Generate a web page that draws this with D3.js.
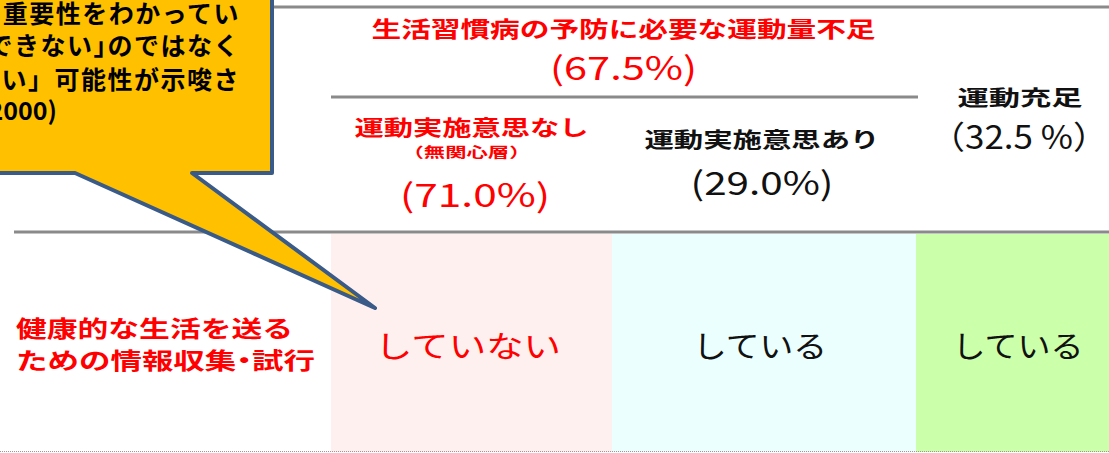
<!DOCTYPE html>
<html>
<head>
<meta charset="utf-8">
<script src="https://cdn.jsdelivr.net/npm/d3@7"></script>
<style>
  body { margin: 0; background: #fff; }
  svg { display: block; font-family: "Noto Sans CJK JP", sans-serif; }
</style>
</head>
<body>
<svg id="chart" width="1109" height="453"></svg>
<script>
// columns of the table
const groups = ["運動実施意思なし", "運動実施意思あり", "運動充足"]
const groupNotes = ["（無関心層）", "", ""]
const shares = ["(71.0%)", "(29.0%)", "（32.5 %）"]
const cellLabels = ["していない", "している", "している"]
const cellFills = ["#fff0f0", "#ebffff", "#ccffaa"]
const cellText = ["#ff0000", "#111", "#111"]
// parent header spanning the first two columns
const parentLabel = "生活習慣病の予防に必要な運動量不足"
const parentShare = "(67.5%)"
const rowLabel = ["健康的な生活を送る", "ための情報収集・試行"]
const calloutLines = ["運動の重要性をわかってい", "ても「できない」のではなく", "「しない」可能性が示唆さ", "れた。(n=2000)"]

const svg = d3.select("#chart")

// column edges: index -> x
const x = d3.scaleLinear().domain([0, 1, 2, 3]).range([331, 612, 916, 1112])
const y = d3.scaleLinear().domain([0, 1]).range([234, 452])

// cell backgrounds
svg.selectAll("rect.cell")
    .data(groups)
    .enter()
    .append("rect")
    .attr("class", "cell")
    .attr("x", (d, i) => x(i))
    .attr("y", y(0))
    .attr("width", (d, i) => x(i + 1) - x(i))
    .attr("height", y(1) - y(0))
    .attr("fill", (d, i) => cellFills[i])

// rules
const rule = (x1, x2, yy, w) => svg.append("line")
    .attr("x1", x1).attr("x2", x2).attr("y1", yy).attr("y2", yy)
    .attr("stroke", "#8a8a8a").attr("stroke-width", w)
rule(260, 1109, 7, 3)
rule(x(0), x(2) + 2, 97, 3)
rule(14, 1109, 232, 3)
svg.append("line")
    .attr("x1", 0).attr("x2", 1109).attr("y1", 451.5).attr("y2", 451.5)
    .attr("stroke", "#999").attr("stroke-width", 1).attr("stroke-dasharray", "1,1")

const mid = i => (x(i) + x(i + 1)) / 2

// parent header
svg.append("text")
    .attr("x", (x(0) + x(2)) / 2).attr("y", 37)
    .attr("text-anchor", "middle").attr("fill", "#ff0000")
    .attr("font-size", 22).attr("font-weight", "bold")
    .attr("textLength", 504).attr("lengthAdjust", "spacingAndGlyphs")
    .text(parentLabel)
svg.append("text")
    .attr("x", (x(0) + x(2)) / 2).attr("y", 80)
    .attr("text-anchor", "middle").attr("fill", "#ff0000")
    .attr("font-size", 32)
    .attr("textLength", 147).attr("lengthAdjust", "spacingAndGlyphs")
    .text(parentShare)

// column headers
const headY = [135, 147, 105]
const shareY = [207, 195, 149]
const headW = [234, 235, 125]
const shareW = [150, 143, 178]
svg.selectAll("text.head")
    .data(groups)
    .enter()
    .append("text")
    .attr("class", "head")
    .attr("x", (d, i) => i === 2 ? 1020 : mid(i) + (i === 1 ? -2 : 0))
    .attr("y", (d, i) => headY[i])
    .attr("text-anchor", "middle")
    .attr("fill", (d, i) => i === 0 ? "#ff0000" : "#111")
    .attr("font-size", 21).attr("font-weight", "bold")
    .attr("textLength", (d, i) => headW[i]).attr("lengthAdjust", "spacingAndGlyphs")
    .text(d => d)
svg.append("text")
    .attr("x", mid(0) - 5).attr("y", 157)
    .attr("text-anchor", "middle").attr("fill", "#ff0000")
    .attr("font-size", 14).attr("font-weight", "bold")
    .attr("textLength", 128).attr("lengthAdjust", "spacingAndGlyphs")
    .text(groupNotes[0])
svg.selectAll("text.share")
    .data(shares)
    .enter()
    .append("text")
    .attr("class", "share")
    .attr("x", (d, i) => i === 2 ? 1019 : [475, 762][i])
    .attr("y", (d, i) => shareY[i])
    .attr("text-anchor", "middle")
    .attr("fill", (d, i) => i === 0 ? "#ff0000" : "#111")
    .attr("font-size", 32)
    .attr("textLength", (d, i) => shareW[i]).attr("lengthAdjust", "spacingAndGlyphs")
    .text(d => d)

// row label
svg.selectAll("text.row")
    .data(rowLabel)
    .enter()
    .append("text")
    .attr("class", "row")
    .attr("x", 16)
    .attr("y", (d, i) => 337 + i * 32)
    .attr("fill", "#ff0000")
    .attr("font-size", 23).attr("font-weight", "bold")
    .style("font-feature-settings", '"halt" 1')
    .attr("textLength", (d, i) => [277, 299][i]).attr("lengthAdjust", "spacingAndGlyphs")
    .text(d => d)

// cell values
svg.selectAll("text.val")
    .data(cellLabels)
    .enter()
    .append("text")
    .attr("class", "val")
    .attr("x", (d, i) => [468, 760, 1018][i])
    .attr("y", 357)
    .attr("text-anchor", "middle")
    .attr("fill", (d, i) => cellText[i])
    .attr("font-size", 30)
    .attr("textLength", (d, i) => [186, 134, 131][i]).attr("lengthAdjust", "spacingAndGlyphs")
    .text(d => d)

// callout
const callout = [[-10, -10], [272, -10], [272, 173], [192, 173], [375, 308], [75, 173], [-10, 173]]
svg.append("path")
    .attr("d", d3.line()(callout) + "Z")
    .attr("fill", "#ffc000")
    .attr("stroke", "#3a5a88")
    .attr("stroke-width", 4)
    .attr("stroke-linejoin", "round")
svg.selectAll("text.note")
    .data(calloutLines)
    .enter()
    .append("text")
    .attr("class", "note")
    .attr("x", (d, i) => i === 3 ? 57 : 240)
    .attr("y", (d, i) => [23, 55, 89, 120][i])
    .attr("text-anchor", "end")
    .attr("fill", "#000")
    .attr("font-size", 25).attr("font-weight", "bold")
    .attr("letter-spacing", (d, i) => i === 3 ? 0 : 1.5)
    .style("font-feature-settings", (d, i) => i === 1 ? '"halt" 1' : "normal")
    .text(d => d)
</script>
</body>
</html>
